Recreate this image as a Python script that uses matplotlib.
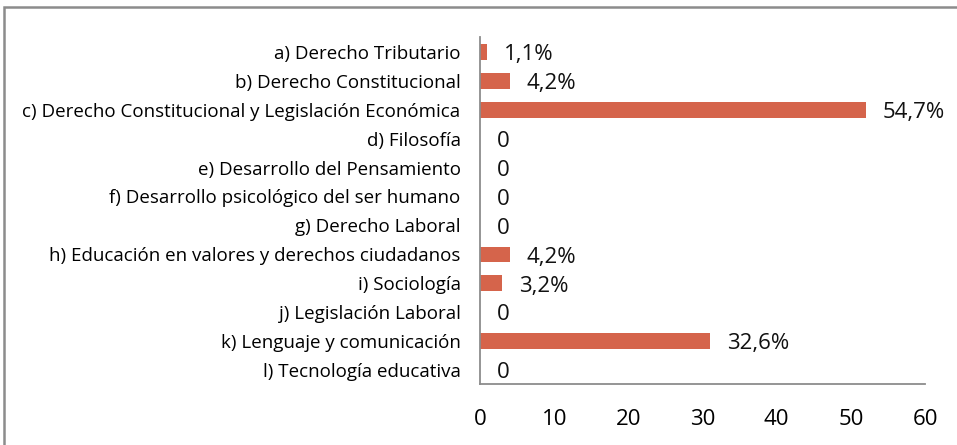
import matplotlib
matplotlib.use('Agg')
import matplotlib.pyplot as plt
from matplotlib.patches import Rectangle

# Data (bar lengths are counts, labels are percentages)
categories = [
    'a) Derecho Tributario',
    'b) Derecho Constitucional',
    'c) Derecho Constitucional y Legislación Económica',
    'd) Filosofía',
    'e) Desarrollo del Pensamiento',
    'f) Desarrollo psicológico del ser humano',
    'g) Derecho Laboral',
    'h) Educación en valores y derechos ciudadanos',
    'i) Sociología',
    'j) Legislación Laboral',
    'k) Lenguaje y comunicación',
    'l) Tecnología educativa',
]
counts = [1, 4, 52, 0, 0, 0, 0, 4, 3, 0, 31, 0]
labels = ['1,1%', '4,2%', '54,7%', '0', '0', '0', '0', '4,2%', '3,2%', '0', '32,6%', '0']
xticks = [0, 10, 20, 30, 40, 50, 60]

plt.rcParams['font.family'] = ['Open Sans', 'DejaVu Sans']

fig = plt.figure(figsize=(9.57, 4.45), dpi=100)
ax = fig.add_axes([0.5016, 0.136, 0.4650, 0.780])

y = list(range(len(categories)))
ax.barh(y, counts, height=0.54, color='#D5644B')
ax.set_ylim(len(categories) - 0.5, -0.5)
ax.set_xlim(0, 60)

for yi, c, lab in zip(y, counts, labels):
    ax.annotate(lab, (c, yi), xytext=(12, -2), textcoords='offset points',
                ha='left', va='center', fontsize=16, color='#111111')

ax.set_yticks(y)
ax.set_yticklabels(categories, fontsize=13.5)
ax.set_xticks(xticks)
ax.set_xticklabels([str(t) for t in xticks], fontsize=16)
ax.tick_params(axis='both', length=0)
ax.tick_params(axis='y', pad=14)
ax.tick_params(axis='x', pad=18)

for s in ['top', 'right']:
    ax.spines[s].set_visible(False)
for s in ['left', 'bottom']:
    ax.spines[s].set_color('#8C8C8C')
    ax.spines[s].set_linewidth(1.3)

# outer chart border
fig.patches.append(Rectangle((4 / 957, -0.05), 1.1, 1 - 7 / 445 + 0.05,
                             transform=fig.transFigure, fill=False,
                             edgecolor='#8C8C8C', linewidth=1.8))

fig.savefig('out.png', dpi=100)
